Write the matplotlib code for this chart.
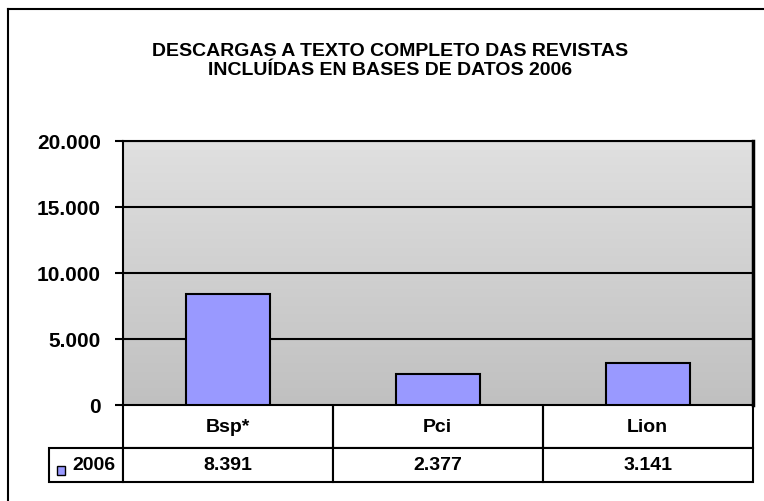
import numpy as np
import matplotlib
matplotlib.use("Agg")
import matplotlib.pyplot as plt
from matplotlib.colors import LinearSegmentedColormap
from matplotlib.patches import Rectangle
from matplotlib.lines import Line2D

# data
categories = ["Bsp*", "Pci", "Lion"]
values = [8391, 2377, 3141]
series_name = "2006"
title = "DESCARGAS A TEXTO COMPLETO DAS REVISTAS\nINCLUÍDAS EN BASES DE DATOS 2006"
yticks = [0, 5000, 10000, 15000, 20000]


def fmt(v):
    return f"{v:,}".replace(",", ".")


plt.rcParams["font.family"] = ["Liberation Sans", "DejaVu Sans"]
plt.rcParams["font.weight"] = "bold"

W, H = 764, 502
fig = plt.figure(figsize=(W / 100, H / 100), dpi=100)
fig.patch.set_facecolor("white")

# plot area in pixels
left, right, top, bottom = 123, 752.5, 141.5, 406
ax = fig.add_axes([left / W, 1 - bottom / H, (right - left) / W, (bottom - top) / H])

# gradient background
grad = LinearSegmentedColormap.from_list("bg", ["#c0c0c0", "#e0e0e0"])
ax.imshow(np.linspace(0, 1, 256).reshape(-1, 1), extent=[-0.5, 2.5, 0, 20000],
          origin="lower", aspect="auto", cmap=grad, zorder=0)

x = np.arange(len(categories))
ax.bar(x, values, width=0.4, color="#9999ff", edgecolor="black", linewidth=1.5, zorder=3)

ax.set_xlim(-0.5, 2.5)
ax.set_ylim(0, 20000)
ax.set_yticks(yticks)
ax.set_yticklabels([fmt(v) for v in yticks], fontsize=15, fontweight="bold")
ax.set_xticks([])
ax.tick_params(axis="y", length=5.8, width=1.5, pad=10)
for y in yticks[1:]:
    ax.axhline(y, color="black", linewidth=1.5, zorder=2)
for s in ax.spines.values():
    s.set_linewidth(1.5)
ax.spines["right"].set_linewidth(2.5)

# data table under the plot (bbox covers the data columns only)
ax_w = right - left
ax_h = bottom - top
lab_w = left - 49
tab_bottom = 483
tab = ax.table(cellText=[[fmt(v) for v in values]], colLabels=categories,
               cellLoc="center",
               bbox=[0, -(tab_bottom - bottom) / ax_h, 1, (tab_bottom - bottom) / ax_h])
tab.add_cell(1, -1, lab_w / ax_w, 34 / ax_h, text=series_name, loc="right",
             facecolor="white")
tab.auto_set_font_size(False)
for (r, c), cell in tab.get_celld().items():
    cell.set_linewidth(1.5)
    cell.set_facecolor("white")
    cell.get_text().set_fontsize(14)
    cell.get_text().set_fontweight("bold")
    cell.set_height((43 if r == 0 else 34) / ax_h)
    cell.set_width(lab_w / ax_w if c == -1 else 1 / 3)
    if r == 0:
        cell.visible_edges = "BLR"

# legend key in the row label cell
fig.patches.append(Rectangle((57 / W, 1 - 476 / H), 8 / W, 9 / H, transform=fig.transFigure,
                             facecolor="#9999ff", edgecolor="black", linewidth=1))

# title
fig.text(390 / W, 1 - 61 / H, title, ha="center", va="center", fontsize=14,
         fontweight="bold", linespacing=1.15)

# outer chart frame (left and top visible)
fig.add_artist(Line2D([7.5 / W, 7.5 / W], [0, 1 - 10 / H], color="black", linewidth=1.5))
fig.add_artist(Line2D([7.5 / W, 1], [1 - 10 / H, 1 - 10 / H], color="black", linewidth=1.5))

fig.savefig("out.png", dpi=100)
